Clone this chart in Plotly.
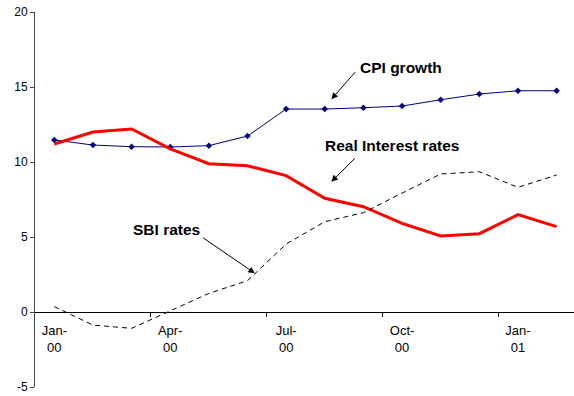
import plotly.graph_objects as go

# Monthly observations, Jan-2000 to Feb-2001
months = ["Jan-00", "Feb-00", "Mar-00", "Apr-00", "May-00", "Jun-00", "Jul-00",
          "Aug-00", "Sep-00", "Oct-00", "Nov-00", "Dec-00", "Jan-01", "Feb-01"]
cpi_growth = [11.47, 11.13, 11.02, 11.0, 11.09, 11.73, 13.53,
              13.53, 13.62, 13.73, 14.15, 14.53, 14.75, 14.75]
real_interest = [11.2, 12.0, 12.2, 10.87, 9.89, 9.75, 9.09,
                 7.58, 7.02, 5.91, 5.07, 5.22, 6.49, 5.69]
sbi_rates = [0.36, -0.87, -1.09, 0.1, 1.24, 2.09, 4.53,
             6.02, 6.62, 7.93, 9.2, 9.35, 8.31, 9.13]

y_ticks = [-5, 0, 5, 10, 15, 20]
y_tick_text = ["-5", "0", "5", "10", "15", "20"]

# Quarterly labels (every third month), split onto two lines
label_idx = [0, 3, 6, 9, 12]
label_text = [months[i].replace("-", "-<br>") for i in label_idx]
# Tick marks sit between categories, one per quarter
tick_pos = [i - 0.5 for i in label_idx[1:]]

x = list(range(len(months)))
FONT = "Liberation Sans, Arial, sans-serif"

fig = go.Figure()
fig.add_trace(go.Scatter(
    x=x, y=cpi_growth, mode="lines+markers", name="CPI growth",
    line=dict(color="#000080", width=1),
    marker=dict(symbol="diamond", size=5, color="#000080")))
fig.add_trace(go.Scatter(
    x=x, y=real_interest, mode="lines", name="Real Interest rates",
    line=dict(color="#ff0000", width=3)))
fig.add_trace(go.Scatter(
    x=x, y=sbi_rates, mode="lines", name="SBI rates",
    line=dict(color="#000000", width=1, dash="5px,4px")))
# Carrier for the month-label axis (draws nothing)
fig.add_trace(go.Scatter(x=x, y=sbi_rates, xaxis="x2", mode="none",
                         hoverinfo="skip", showlegend=False))

x_range = [-0.5, 13.45]
zero_pos = 5 / 25  # y = 0 within the [-5, 20] range

fig.update_layout(
    width=574, height=396,
    margin=dict(l=35, r=0, t=12, b=9),
    paper_bgcolor="white", plot_bgcolor="white",
    showlegend=False,
    font=dict(family=FONT, color="#000000"),
    xaxis=dict(range=x_range, anchor="free", position=zero_pos,
               showgrid=False, zeroline=False,
               showline=True, linecolor="#000000", linewidth=1,
               tickmode="array", tickvals=tick_pos,
               ticks="outside", ticklen=4, tickcolor="#000000",
               showticklabels=False),
    xaxis2=dict(range=x_range, overlaying="x", anchor="free", position=zero_pos,
                side="bottom",
                showgrid=False, zeroline=False, showline=False,
                tickmode="array", tickvals=label_idx, ticktext=label_text,
                ticks="", ticklabelstandoff=9,
                tickfont=dict(size=13, family=FONT, color="#000000")),
    yaxis=dict(range=[-5, 20], tickmode="array", tickvals=y_ticks, ticktext=y_tick_text,
               showgrid=False, zeroline=False,
               showline=True, linecolor="#444444", linewidth=1,
               ticks="outside", ticklen=4, tickcolor="#444444",
               tickfont=dict(size=12, family=FONT, color="#000000")),
)

# Callout labels
labels = [
    ("CPI growth", 8.96, 16.33),
    ("Real Interest rates", 8.75, 11.07),
    ("SBI rates", 2.91, 5.47),
]
for text, lx, ly in labels:
    fig.add_annotation(x=lx, y=ly, xref="x", yref="y", text=f"<b>{text}</b>",
                       showarrow=False, font=dict(size=15.5, family=FONT, color="#000000"))

# Pointer arrows (tail -> head)
arrows = [
    (7.82, 16.09, 7.17, 14.18),
    (7.82, 10.35, 7.17, 8.69),
    (3.81, 5.02, 5.19, 2.58),
]
for tx, ty, hx, hy in arrows:
    fig.add_annotation(x=hx, y=hy, ax=tx, ay=ty, xref="x", yref="y",
                       axref="x", ayref="y", text="", showarrow=True,
                       arrowhead=2, arrowsize=1.3, arrowwidth=1, arrowcolor="#000000")

fig.write_html("out.html")
